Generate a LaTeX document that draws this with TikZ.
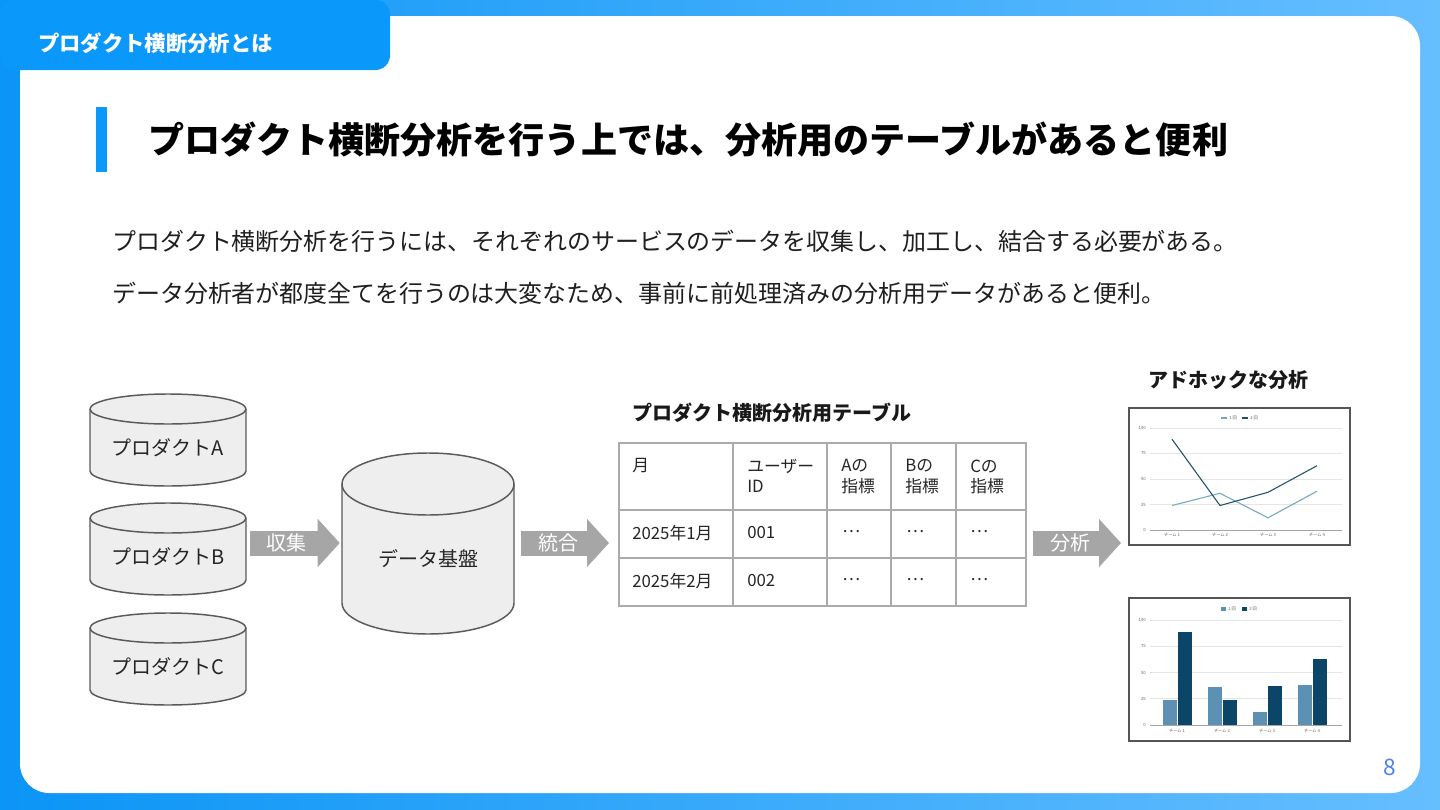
\documentclass[tikz,border=0pt]{standalone}
\usepackage{fontspec}
\setmainfont{Noto Sans CJK JP}
\usetikzlibrary{arrows.meta,positioning,calc}

\definecolor{bgleft}{HTML}{0B95F6}
\definecolor{bgright}{HTML}{66BEFF}
\definecolor{tabblue}{HTML}{0A98FA}
\definecolor{cylfill}{HTML}{EEEEEE}
\definecolor{cylline}{HTML}{5A5A5A}
\definecolor{arrowgray}{HTML}{A6A6A6}
\definecolor{tablegray}{HTML}{ABABAB}
\definecolor{chartframe}{HTML}{555555}
\definecolor{seriesA}{HTML}{74A8BE}
\definecolor{seriesB}{HTML}{22506B}
\definecolor{barA}{HTML}{5D91B3}
\definecolor{barB}{HTML}{0B4668}
\definecolor{pagenum}{HTML}{4A82E6}

% cylinder: name, cx, top rim y, bottom y, x radius, y radius, label
\newcommand{\dbcyl}[7]{%
  \filldraw[dbline] (#2-#5,#3) -- (#2-#5,#4-#6)
    arc[start angle=180,end angle=0,x radius=#5,y radius=#6]
    -- (#2+#5,#3)
    arc[start angle=0,end angle=-180,x radius=#5,y radius=#6] -- cycle;
  \draw[dbline,fill=none] (#2-#5,#3) arc[start angle=180,end angle=0,x radius=#5,y radius=#6];
  \node[dblabel,minimum width={2*#5*0.75pt},minimum height={(#4-#3)*0.75pt}] (#1) at (#2,{(#3+#4)/2}) {#7};
}

\begin{document}
\begin{tikzpicture}[x=0.75pt,y=-0.75pt,
    dbline/.style={draw=cylline,line width=1.1pt,fill=cylfill},
    dblabel/.style={inner sep=0pt,font=\fontsize{15}{18}\selectfont,text=black!85},
    flowarrow/.style={draw=arrowgray,line width=18.75pt,-{Triangle[length=16.5pt,width=35.25pt]}},
    flowlabel/.style={text=white,font=\fontsize{15}{18}\selectfont,inner sep=0pt},
    cell/.style={anchor=west,inner sep=0pt,font=\fontsize{12.6}{15}\selectfont,text=black!85},
    tableline/.style={draw=tablegray,line width=1.5pt},
    chartbox/.style={draw=chartframe,line width=1.5pt,fill=white},
    gridline/.style={draw=black!10,line width=0.4pt},
    tinytext/.style={inner sep=0pt,font=\fontsize{3.2}{3.6}\selectfont,text=black!60},
    heading/.style={inner sep=0pt,anchor=west,font=\bfseries\fontsize{15}{18}\selectfont,text=black!90},
    bodytext/.style={inner sep=0pt,anchor=west,font=\fontsize{17.96}{21}\selectfont,text=black!88}]
    \useasboundingbox (0,0) rectangle (1440,810);

    % frame
    \shade[left color=bgleft,right color=bgright] (0,0) rectangle (1440,810);
    \fill[white,rounded corners=22pt] (20,16) rectangle (1420,793);
    \fill[tabblue,rounded corners=11pt] (0,0) rectangle (390,70);
    \node[heading,text=white,font=\bfseries\fontsize{16}{19}\selectfont] (tab) at (38,43) {プロダクト横断分析とは};
    \node[text=pagenum,inner sep=0pt,font=\fontsize{17}{20}\selectfont] (page) at (1390,767) {8};

    % title and lead text
    \fill[tabblue] (96,107) rectangle (107,172);
    \node[heading,font=\bfseries\fontsize{27.05}{32}\selectfont,text=black] (title) at (148,140)
        {プロダクト横断分析を行う上では、分析用のテーブルがあると便利};
    \node[bodytext] (lead1) at (112,241)
        {プロダクト横断分析を行うには、それぞれのサービスのデータを収集し、加工し、結合する必要がある。};
    \node[bodytext] (lead2) at (112,293)
        {データ分析者が都度全てを行うのは大変なため、事前に前処理済みの分析用データがあると便利。};

    % sources and platform
    \foreach \n/\t/\l in {prodA/409/A, prodB/518/B, prodC/628/C}
        \dbcyl{\n}{168}{\t}{\t+77}{78}{15}{プロダクト\l};
    \dbcyl{platform}{428}{484}{634}{86}{31}{データ基盤};

    % table
    \node[heading] (tbltitle) at (632,413) {プロダクト横断分析用テーブル};
    \node[tableline,minimum width=305.25pt,minimum height=122.25pt,inner sep=0pt] (tbl) at (822.5,524.5) {};
    \foreach \x in {733,827,891,956}
        \draw[tableline] (\x,443) -- (\x,606);
    \foreach \y in {510,558}
        \draw[tableline] (619,\y) -- (1026,\y);
    \foreach \x/\t [count=\i] in {632/月, 747/ユーザー, 841/Aの, 905/Bの, 970/Cの}
        \node[cell] (head\i) at (\x,466) {\t};
    \foreach \x/\t [count=\i] in {747/ID, 841/指標, 905/指標, 970/指標}
        \node[cell] (sub\i) at (\x,486) {\t};
    \foreach \y/\m/\u [count=\r] in {533/2025年1月/001, 581/2025年2月/002} {
        \node[cell] (month\r) at (632,\y) {\m};
        \node[cell] (user\r) at (747,\y) {\u};
        \foreach \x [count=\k] in {842,906,970}
            \node[cell] (val\r\k) at (\x,\y-1) {…};
    }

    % ad hoc charts
    \node[heading] (charttitle) at (1148,380) {アドホックな分析};
    \node[chartbox,minimum width=165.75pt,minimum height=102.75pt,inner sep=0pt] (linechart) at (1239.5,476.5) {};
    \node[chartbox,minimum width=165.75pt,minimum height=107.25pt,inner sep=0pt] (barchart) at (1239.5,669.5) {};

    % line chart
    \foreach \v in {0,25,50,75,100} {
        \draw[gridline] (1150,{530-1.02*\v}) -- (1342,{530-1.02*\v});
        \node[tinytext,anchor=east] (ly\v) at (1146,{530-1.02*\v}) {\v};
    }
    \draw[black!35,line width=0.5pt] (1150,530) -- (1342,530);
    \foreach \x [count=\i] in {1172,1220,1268,1317}
        \node[tinytext] (lx\i) at (\x,535) {チーム \i};
    \draw[seriesA,line width=0.8pt] (1172,505.5) -- (1220,493.3) -- (1268,517.8) -- (1317,491.2);
    \draw[seriesB,line width=0.8pt] (1172,439.2) -- (1220,505.5) -- (1268,492.3) -- (1317,465.7);
    \draw[seriesA,line width=0.8pt] (1221,418) -- (1227,418);
    \node[tinytext,anchor=west] (lkeyA) at (1229,418) {1 回};
    \draw[seriesB,line width=0.8pt] (1242,418) -- (1248,418);
    \node[tinytext,anchor=west] (lkeyB) at (1250,418) {2 回};

    % bar chart
    \foreach \v in {0,25,50,75,100} {
        \draw[gridline] (1150,{725-1.05*\v}) -- (1342,{725-1.05*\v});
        \node[tinytext,anchor=east] (by\v) at (1146,{725-1.05*\v}) {\v};
    }
    \draw[black!35,line width=0.5pt] (1150,725) -- (1342,725);
    \foreach \c/\a/\b [count=\i] in {1177/24/89, 1222/36/24, 1267/12/37, 1312/38/63} {
        \fill[barA] (\c-14,725) rectangle (\c,{725-1.05*\a});
        \fill[barB] (\c+1,725) rectangle (\c+14.5,{725-1.05*\b});
        \node[tinytext] (bx\i) at (\c,731) {チーム \i};
    }
    \fill[barA] (1221,607) rectangle (1226,611);
    \node[tinytext,anchor=west] (bkeyA) at (1228,609) {1 回};
    \fill[barB] (1242,607) rectangle (1247,611);
    \node[tinytext,anchor=west] (bkeyB) at (1249,609) {2 回};

    % flow arrows
    \coordinate (flow) at (0,543);
    \draw[flowarrow,shorten <=3pt,shorten >=1.5pt] (prodB.east |- flow)
        -- node[flowlabel,pos=0.42] (collect) {収集} (platform.west |- flow);
    \draw[flowarrow,shorten <=5.25pt,shorten >=6.75pt] (platform.east |- flow)
        -- node[flowlabel,pos=0.43] (merge) {統合} (tbl.west |- flow);
    \draw[flowarrow,shorten <=4.5pt,shorten >=5.25pt] (tbl.east |- flow)
        -- node[flowlabel,pos=0.43] (analyse) {分析} (linechart.west |- flow);
\end{tikzpicture}
\end{document}
